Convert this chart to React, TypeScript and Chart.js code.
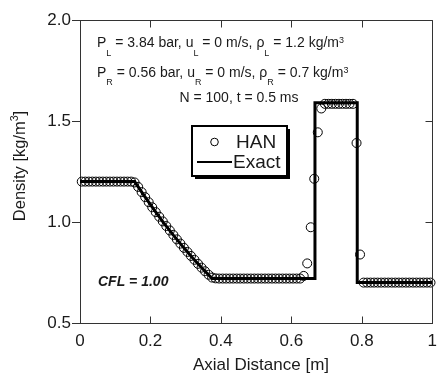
import { useEffect, useRef } from "react";
import { Chart, registerables } from "chart.js";

Chart.register(...registerables);

// Grid: N = 100 uniform cells on [0, 1] m, values stored at cell centres.
const N_CELLS = 100;
const cellCenters = Array.from({ length: N_CELLS }, (_, i) => (i + 0.5) / N_CELLS);

// HAN scheme density per cell [kg/m^3]
const hanDensity = [
  1.2, 1.2, 1.2, 1.2, 1.2, 1.2, 1.2, 1.2, 1.2, 1.2,
  1.2, 1.2, 1.2, 1.2, 1.2, 1.196, 1.174, 1.148, 1.123, 1.098,
  1.073, 1.049, 1.026, 1.003, 0.98, 0.958, 0.936, 0.914, 0.893, 0.872,
  0.852, 0.832, 0.813, 0.793, 0.774, 0.756, 0.739, 0.725, 0.721, 0.72,
  0.72, 0.72, 0.72, 0.72, 0.72, 0.72, 0.72, 0.72, 0.72, 0.72,
  0.72, 0.72, 0.72, 0.72, 0.72, 0.72, 0.72, 0.72, 0.72, 0.72,
  0.72, 0.72, 0.72, 0.733, 0.795, 0.974, 1.214, 1.444, 1.562, 1.585,
  1.585, 1.585, 1.585, 1.585, 1.585, 1.585, 1.585, 1.585, 1.391, 0.839,
  0.7, 0.7, 0.7, 0.7, 0.7, 0.7, 0.7, 0.7, 0.7, 0.7,
  0.7, 0.7, 0.7, 0.7, 0.7, 0.7, 0.7, 0.7, 0.7, 0.7,
];

// Exact Riemann solution: rarefaction fan, contact, shock
const exactX = [0, 0.155, 0.1825, 0.21, 0.2375, 0.265, 0.2925, 0.32, 0.3475, 0.375, 0.667, 0.667, 0.787, 0.787, 1.0];
const exactDensity = [1.2, 1.2, 1.129, 1.061, 0.996, 0.935, 0.877, 0.822, 0.77, 0.72, 0.72, 1.59, 1.59, 0.7, 0.7];

const xTicks = [0, 0.2, 0.4, 0.6, 0.8, 1.0];
const yTicks = [0.5, 1.0, 1.5, 2.0];

const seriesNames = ["HAN", "Exact"];
const xTitle = "Axial Distance [m]";
const cflLabel = "CFL = 1.00";

const FONT = '"Liberation Sans", Arial, Helvetica, sans-serif';
const INK = "#1a1a1a";
const AXIS = "#333";

type Run = { t: string; k?: "sub" | "sup" };

const leftState: Run[] = [
  { t: "P" }, { t: "L", k: "sub" }, { t: " = 3.84 bar, u" }, { t: "L", k: "sub" },
  { t: " = 0 m/s, \u03c1" }, { t: "L", k: "sub" }, { t: " = 1.2 kg/m" }, { t: "3", k: "sup" },
];
const rightState: Run[] = [
  { t: "P" }, { t: "R", k: "sub" }, { t: " = 0.56 bar, u" }, { t: "R", k: "sub" },
  { t: " = 0 m/s, \u03c1" }, { t: "R", k: "sub" }, { t: " = 0.7 kg/m" }, { t: "3", k: "sup" },
];
const runInfo: Run[] = [{ t: "N = 100, t = 0.5 ms" }];
const yTitle: Run[] = [{ t: "Density [kg/m" }, { t: "3", k: "sup" }, { t: "]" }];

function runsWidth(ctx: CanvasRenderingContext2D, runs: Run[], size: number, weight = "") {
  let w = 0;
  for (const r of runs) {
    const s = r.k ? size * 0.64 : size;
    ctx.font = `${weight}${s}px ${FONT}`;
    w += ctx.measureText(r.t).width;
  }
  return w;
}

function drawRuns(ctx: CanvasRenderingContext2D, runs: Run[], x: number, y: number, size: number, subDrop: number, supRise: number) {
  let cx = x;
  for (const r of runs) {
    const s = r.k ? size * 0.64 : size;
    ctx.font = `${s}px ${FONT}`;
    const dy = r.k === "sub" ? subDrop : r.k === "sup" ? -supRise : 0;
    ctx.fillText(r.t, cx, y + dy);
    cx += ctx.measureText(r.t).width;
  }
}

const crisp = (v: number) => Math.round(v) + 0.5;

const decorPlugin = {
  id: "decor",
  afterDraw(chart: any) {
    const { ctx, chartArea, scales } = chart;
    const { left, right, top, bottom } = chartArea;
    const xs = scales.x;
    const ys = scales.y;
    ctx.save();

    // top and right frame lines
    ctx.strokeStyle = AXIS;
    ctx.lineWidth = 1;
    ctx.beginPath();
    ctx.moveTo(crisp(left), crisp(top));
    ctx.lineTo(crisp(right), crisp(top));
    ctx.lineTo(crisp(right), crisp(bottom));
    ctx.stroke();

    // inward tick marks on bottom, top and right edges
    const tl = 7;
    ctx.beginPath();
    for (const v of xTicks) {
      const px = crisp(xs.getPixelForValue(v));
      ctx.moveTo(px, crisp(bottom));
      ctx.lineTo(px, crisp(bottom) - tl);
      ctx.moveTo(px, crisp(top));
      ctx.lineTo(px, crisp(top) + tl);
    }
    for (const v of yTicks) {
      const py = crisp(ys.getPixelForValue(v));
      ctx.moveTo(crisp(right), py);
      ctx.lineTo(crisp(right) - tl, py);
    }
    ctx.stroke();

    // state annotations
    ctx.fillStyle = INK;
    ctx.textBaseline = "alphabetic";
    ctx.textAlign = "left";
    drawRuns(ctx, leftState, 97, 47, 14, 8.5, 4);
    drawRuns(ctx, rightState, 97, 76.5, 14, 8.5, 4);
    const wInfo = runsWidth(ctx, runInfo, 14);
    drawRuns(ctx, runInfo, 239 - wInfo / 2, 102, 14, 0, 0);

    // CFL label
    ctx.font = `italic bold 14px ${FONT}`;
    ctx.fillText(cflLabel, 98, 286);

    // axis titles
    ctx.font = `17px ${FONT}`;
    ctx.textAlign = "center";
    ctx.fillText(xTitle, 261, 369.5);
    ctx.textAlign = "left";

    ctx.save();
    ctx.translate(20, 166);
    ctx.rotate(-Math.PI / 2);
    ctx.textBaseline = "middle";
    const wy = runsWidth(ctx, yTitle, 16.5);
    drawRuns(ctx, yTitle, -wy / 2, 0, 16.5, 0, 5);
    ctx.restore();

    // legend box with drop shadow
    const bx = 192, by = 126, bw = 95, bh = 50;
    ctx.fillStyle = "#000";
    ctx.fillRect(bx + 3, by + 3, bw, bh);
    ctx.fillStyle = "#fff";
    ctx.fillRect(bx, by, bw, bh);
    ctx.strokeStyle = "#000";
    ctx.lineWidth = 2;
    ctx.strokeRect(bx, by, bw, bh);

    ctx.lineWidth = 1;
    ctx.beginPath();
    ctx.arc(214.5, 142, 3.8, 0, Math.PI * 2);
    ctx.stroke();
    ctx.lineWidth = 2;
    ctx.beginPath();
    ctx.moveTo(197, 162);
    ctx.lineTo(232, 162);
    ctx.stroke();

    ctx.fillStyle = INK;
    ctx.font = `19px ${FONT}`;
    ctx.textBaseline = "middle";
    ctx.fillText(seriesNames[0], 236, 143);
    ctx.fillText(seriesNames[1], 233, 163);

    ctx.restore();
  },
};

export default function App() {
  const ref = useRef<HTMLCanvasElement>(null);

  useEffect(() => {
    if (!ref.current) return;
    Chart.defaults.font.family = FONT;
    Chart.defaults.color = INK;

    const chart = new Chart(ref.current, {
      type: "scatter",
      data: {
        datasets: [
          {
            label: seriesNames[0],
            data: cellCenters.map((x, i) => ({ x, y: hanDensity[i] })),
            showLine: false,
            pointStyle: "circle",
            pointRadius: 4.5,
            pointBorderWidth: 1,
            pointBorderColor: "#000",
            pointBackgroundColor: "rgba(0,0,0,0)",
            clip: false as any,
            order: 1,
          },
          {
            label: seriesNames[1],
            data: exactX.map((x, i) => ({ x, y: exactDensity[i] })),
            showLine: true,
            borderColor: "#000",
            borderWidth: 3,
            borderJoinStyle: "miter",
            pointRadius: 0,
            tension: 0,
            order: 2,
          } as any,
        ],
      },
      options: {
        responsive: false,
        animation: false,
        devicePixelRatio: 1,
        events: [],
        layout: { padding: { top: 20, right: 5, left: 0, bottom: 0 } },
        plugins: {
          legend: { display: false },
          tooltip: { enabled: false },
        },
        scales: {
          x: {
            type: "linear",
            min: 0,
            max: 1,
            afterBuildTicks: (s: any) => {
              s.ticks = xTicks.map((value) => ({ value }));
            },
            ticks: {
              padding: 8,
              font: { size: 17, family: FONT },
              color: INK,
              maxRotation: 0,
              callback: (v: any) => String(Number(v)),
            },
            grid: { display: false, drawTicks: false },
            border: { display: true, color: AXIS, width: 1 },
            afterFit: (s: any) => {
              s.height = 54;
            },
          },
          y: {
            type: "linear",
            min: 0.5,
            max: 2.0,
            afterBuildTicks: (s: any) => {
              s.ticks = yTicks.map((value) => ({ value }));
            },
            ticks: {
              padding: 1,
              font: { size: 17, family: FONT },
              color: INK,
              callback: (v: any) => Number(v).toFixed(1),
            },
            grid: {
              display: true,
              drawOnChartArea: false,
              drawTicks: true,
              tickLength: 8,
              color: AXIS,
            },
            border: { display: true, color: AXIS, width: 1 },
            afterFit: (s: any) => {
              s.width = 80;
            },
          },
        },
      },
      plugins: [decorPlugin],
    });

    return () => chart.destroy();
  }, []);

  return (
    <div style={{ position: "absolute", left: 0, top: 0, width: 445, height: 377, background: "#fff" }}>
      <canvas ref={ref} width={445} height={377} style={{ display: "block", width: 445, height: 377 }} />
    </div>
  );
}
